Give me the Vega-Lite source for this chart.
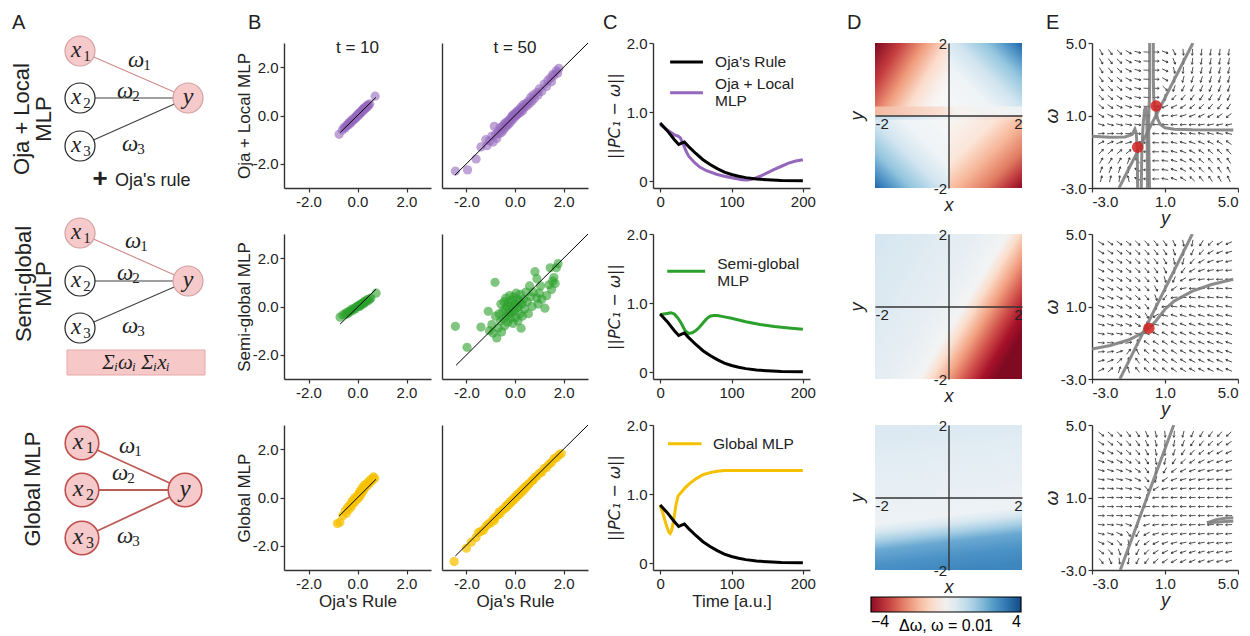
{
"$schema":"https://vega.github.io/schema/vega-lite/v6.json",
"padding":{"left":0,"top":12,"right":0,"bottom":0},
"config":{
 "view":{"stroke":null},
 "font":"Liberation Sans",
 "axis":{"labelFont":"Liberation Sans","titleFont":"Liberation Sans","labelFontSize":15,"titleFontSize":17,"titleFontWeight":"normal","labelColor":"#222","titleColor":"#222","domainColor":"#333","tickColor":"#333","domainWidth":1.4,"tickWidth":1.2,"tickSize":4,"grid":false,"labelPadding":2},
 "text":{"font":"Liberation Sans","color":"#222"},
 "legend":{"labelFont":"Liberation Sans","titleFont":"Liberation Sans"}
},
"columns":9,
"spacing":{"row":46,"column":11},
"bounds":"flush",
"datasets":{
"sc":[
{"g":"1a","x":-0.75,"y":-0.78},{"g":"1a","x":-0.62,"y":-0.6},{"g":"1a","x":-0.55,"y":-0.5},{"g":"1a","x":-0.5,"y":-0.52},{"g":"1a","x":-0.45,"y":-0.42},{"g":"1a","x":-0.42,"y":-0.38},{"g":"1a","x":-0.38,"y":-0.4},{"g":"1a","x":-0.35,"y":-0.3},{"g":"1a","x":-0.3,"y":-0.28},{"g":"1a","x":-0.28,"y":-0.32},{"g":"1a","x":-0.25,"y":-0.2},{"g":"1a","x":-0.2,"y":-0.22},{"g":"1a","x":-0.18,"y":-0.15},{"g":"1a","x":-0.15,"y":-0.18},{"g":"1a","x":-0.1,"y":-0.08},{"g":"1a","x":-0.08,"y":-0.12},{"g":"1a","x":-0.05,"y":-0.02},{"g":"1a","x":0,"y":0.02},{"g":"1a","x":0.02,"y":-0.03},{"g":"1a","x":0.05,"y":0.08},{"g":"1a","x":0.08,"y":0.05},{"g":"1a","x":0.1,"y":0.12},{"g":"1a","x":0.12,"y":0.1},{"g":"1a","x":0.15,"y":0.18},{"g":"1a","x":0.18,"y":0.15},{"g":"1a","x":0.2,"y":0.24},{"g":"1a","x":0.22,"y":0.2},{"g":"1a","x":0.25,"y":0.28},{"g":"1a","x":0.28,"y":0.25},{"g":"1a","x":0.3,"y":0.33},{"g":"1a","x":0.33,"y":0.3},{"g":"1a","x":0.36,"y":0.38},{"g":"1a","x":0.4,"y":0.35},{"g":"1a","x":0.42,"y":0.44},{"g":"1a","x":0.45,"y":0.42},{"g":"1a","x":0.5,"y":0.48},{"g":"1a","x":0.72,"y":0.8},
{"g":"1b","x":-2.45,"y":-2.3},{"g":"1b","x":-1.95,"y":-2.25},{"g":"1b","x":-1.6,"y":-1.8},{"g":"1b","x":-1.4,"y":-1.3},{"g":"1b","x":-1.2,"y":-1.0},{"g":"1b","x":-1.15,"y":-1.25},{"g":"1b","x":-1.05,"y":-1.05},{"g":"1b","x":-0.95,"y":-0.85},{"g":"1b","x":-0.9,"y":-1.1},{"g":"1b","x":-0.85,"y":-0.45},{"g":"1b","x":-0.8,"y":-0.8},{"g":"1b","x":-0.75,"y":-0.95},{"g":"1b","x":-0.7,"y":-0.65},{"g":"1b","x":-0.65,"y":-0.75},{"g":"1b","x":-0.6,"y":-0.5},{"g":"1b","x":-0.55,"y":-0.7},{"g":"1b","x":-0.5,"y":-0.45},{"g":"1b","x":-0.48,"y":-0.6},{"g":"1b","x":-0.45,"y":-0.35},{"g":"1b","x":-0.4,"y":-0.5},{"g":"1b","x":-0.38,"y":-0.3},{"g":"1b","x":-0.35,"y":-0.42},{"g":"1b","x":-0.3,"y":-0.25},{"g":"1b","x":-0.28,"y":-0.38},{"g":"1b","x":-0.25,"y":-0.2},{"g":"1b","x":-0.2,"y":-0.3},{"g":"1b","x":-0.18,"y":-0.1},{"g":"1b","x":-0.15,"y":-0.2},{"g":"1b","x":-0.12,"y":-0.05},{"g":"1b","x":-0.1,"y":0.0},{"g":"1b","x":-0.08,"y":-0.15},{"g":"1b","x":-0.05,"y":0.05},{"g":"1b","x":0.0,"y":-0.05},{"g":"1b","x":0.02,"y":0.1},{"g":"1b","x":0.05,"y":0.0},{"g":"1b","x":0.08,"y":0.15},{"g":"1b","x":0.1,"y":0.05},{"g":"1b","x":0.12,"y":0.2},{"g":"1b","x":0.15,"y":0.1},{"g":"1b","x":0.2,"y":0.25},{"g":"1b","x":0.22,"y":0.12},{"g":"1b","x":0.25,"y":0.35},{"g":"1b","x":0.3,"y":0.3},{"g":"1b","x":0.32,"y":0.2},{"g":"1b","x":0.35,"y":0.45},{"g":"1b","x":0.4,"y":0.35},{"g":"1b","x":0.45,"y":0.5},{"g":"1b","x":0.5,"y":0.4},{"g":"1b","x":0.55,"y":0.6},{"g":"1b","x":0.6,"y":0.5},{"g":"1b","x":0.65,"y":0.75},{"g":"1b","x":0.7,"y":0.6},{"g":"1b","x":0.75,"y":0.85},{"g":"1b","x":0.8,"y":0.7},{"g":"1b","x":0.9,"y":0.95},{"g":"1b","x":0.95,"y":0.85},{"g":"1b","x":1.0,"y":1.1},{"g":"1b","x":1.1,"y":1.0},{"g":"1b","x":1.2,"y":1.3},{"g":"1b","x":1.3,"y":1.2},{"g":"1b","x":1.35,"y":1.45},{"g":"1b","x":1.45,"y":1.55},{"g":"1b","x":1.5,"y":1.4},{"g":"1b","x":1.55,"y":1.7},{"g":"1b","x":1.6,"y":1.65},{"g":"1b","x":1.7,"y":1.85},{"g":"1b","x":1.75,"y":1.75},{"g":"1b","x":1.8,"y":1.95},
{"g":"2a","x":-0.71,"y":-0.44},{"g":"2a","x":-0.6,"y":-0.35},{"g":"2a","x":-0.5,"y":-0.33},{"g":"2a","x":-0.45,"y":-0.25},{"g":"2a","x":-0.4,"y":-0.3},{"g":"2a","x":-0.35,"y":-0.2},{"g":"2a","x":-0.3,"y":-0.22},{"g":"2a","x":-0.25,"y":-0.12},{"g":"2a","x":-0.2,"y":-0.16},{"g":"2a","x":-0.15,"y":-0.08},{"g":"2a","x":-0.1,"y":-0.1},{"g":"2a","x":-0.05,"y":-0.02},{"g":"2a","x":0,"y":0.0},{"g":"2a","x":0.05,"y":0.04},{"g":"2a","x":0.08,"y":-0.01},{"g":"2a","x":0.1,"y":0.08},{"g":"2a","x":0.15,"y":0.06},{"g":"2a","x":0.18,"y":0.13},{"g":"2a","x":0.2,"y":0.1},{"g":"2a","x":0.25,"y":0.18},{"g":"2a","x":0.28,"y":0.14},{"g":"2a","x":0.3,"y":0.22},{"g":"2a","x":0.35,"y":0.2},{"g":"2a","x":0.4,"y":0.28},{"g":"2a","x":0.45,"y":0.25},{"g":"2a","x":0.5,"y":0.32},{"g":"2a","x":0.55,"y":0.35},{"g":"2a","x":0.76,"y":0.55},
{"g":"2b","x":-2.45,"y":-0.82},{"g":"2b","x":-1.97,"y":-1.69},{"g":"2b","x":-1.4,"y":-0.85},{"g":"2b","x":-1.1,"y":-0.2},{"g":"2b","x":-1.05,"y":-1.0},{"g":"2b","x":-0.95,"y":-0.75},{"g":"2b","x":-0.9,"y":-1.1},{"g":"2b","x":-0.82,"y":1.0},{"g":"2b","x":-0.8,"y":-0.4},{"g":"2b","x":-0.75,"y":-1.3},{"g":"2b","x":-0.7,"y":-0.9},{"g":"2b","x":-0.65,"y":-0.3},{"g":"2b","x":-0.6,"y":-0.6},{"g":"2b","x":-0.58,"y":0.1},{"g":"2b","x":-0.55,"y":-1.05},{"g":"2b","x":-0.5,"y":-0.2},{"g":"2b","x":-0.48,"y":-0.5},{"g":"2b","x":-0.45,"y":0.2},{"g":"2b","x":-0.42,"y":-0.8},{"g":"2b","x":-0.4,"y":-0.1},{"g":"2b","x":-0.38,"y":0.35},{"g":"2b","x":-0.35,"y":-0.4},{"g":"2b","x":-0.32,"y":0.0},{"g":"2b","x":-0.3,"y":-0.65},{"g":"2b","x":-0.28,"y":0.15},{"g":"2b","x":-0.25,"y":-0.25},{"g":"2b","x":-0.22,"y":0.45},{"g":"2b","x":-0.2,"y":-0.5},{"g":"2b","x":-0.18,"y":0.05},{"g":"2b","x":-0.15,"y":-0.3},{"g":"2b","x":-0.12,"y":0.25},{"g":"2b","x":-0.1,"y":-0.1},{"g":"2b","x":-0.08,"y":-0.7},{"g":"2b","x":-0.05,"y":0.4},{"g":"2b","x":-0.03,"y":-0.2},{"g":"2b","x":0.0,"y":0.1},{"g":"2b","x":0.02,"y":-0.45},{"g":"2b","x":0.05,"y":0.55},{"g":"2b","x":0.08,"y":-0.05},{"g":"2b","x":0.1,"y":0.3},{"g":"2b","x":0.12,"y":-0.6},{"g":"2b","x":0.15,"y":0.0},{"g":"2b","x":0.18,"y":0.2},{"g":"2b","x":0.2,"y":-0.3},{"g":"2b","x":0.22,"y":0.5},{"g":"2b","x":0.25,"y":-0.9},{"g":"2b","x":0.28,"y":0.1},{"g":"2b","x":0.3,"y":-0.4},{"g":"2b","x":0.35,"y":0.3},{"g":"2b","x":0.4,"y":-0.1},{"g":"2b","x":0.45,"y":0.6},{"g":"2b","x":0.5,"y":0.2},{"g":"2b","x":0.55,"y":-0.3},{"g":"2b","x":0.6,"y":0.85},{"g":"2b","x":0.65,"y":0.4},{"g":"2b","x":0.7,"y":0.0},{"g":"2b","x":0.75,"y":0.6},{"g":"2b","x":0.82,"y":1.44},{"g":"2b","x":0.9,"y":0.35},{"g":"2b","x":0.95,"y":0.1},{"g":"2b","x":1.0,"y":0.55},{"g":"2b","x":1.05,"y":0.85},{"g":"2b","x":1.1,"y":0.3},{"g":"2b","x":1.23,"y":-0.07},{"g":"2b","x":1.3,"y":0.45},{"g":"2b","x":1.4,"y":0.9},{"g":"2b","x":1.45,"y":1.6},{"g":"2b","x":1.5,"y":0.7},{"g":"2b","x":1.55,"y":1.05},{"g":"2b","x":1.6,"y":1.2},{"g":"2b","x":1.65,"y":0.95},{"g":"2b","x":1.7,"y":1.6},{"g":"2b","x":1.77,"y":1.77},{"g":"2b","x":0.9,"y":1.15},
{"g":"3a","x":-0.82,"y":-1.08},{"g":"3a","x":-0.72,"y":-1.02},{"g":"3a","x":-0.6,"y":-0.75},{"g":"3a","x":-0.5,"y":-0.55},{"g":"3a","x":-0.45,"y":-0.65},{"g":"3a","x":-0.4,"y":-0.4},{"g":"3a","x":-0.35,"y":-0.5},{"g":"3a","x":-0.3,"y":-0.3},{"g":"3a","x":-0.25,"y":-0.38},{"g":"3a","x":-0.22,"y":-0.15},{"g":"3a","x":-0.2,"y":-0.25},{"g":"3a","x":-0.15,"y":-0.1},{"g":"3a","x":-0.12,"y":-0.2},{"g":"3a","x":-0.1,"y":0.0},{"g":"3a","x":-0.05,"y":-0.08},{"g":"3a","x":0,"y":0.05},{"g":"3a","x":0.02,"y":-0.05},{"g":"3a","x":0.05,"y":0.15},{"g":"3a","x":0.08,"y":0.05},{"g":"3a","x":0.1,"y":0.25},{"g":"3a","x":0.12,"y":0.1},{"g":"3a","x":0.15,"y":0.3},{"g":"3a","x":0.18,"y":0.2},{"g":"3a","x":0.2,"y":0.4},{"g":"3a","x":0.25,"y":0.3},{"g":"3a","x":0.28,"y":0.5},{"g":"3a","x":0.3,"y":0.4},{"g":"3a","x":0.35,"y":0.55},{"g":"3a","x":0.4,"y":0.5},{"g":"3a","x":0.45,"y":0.65},{"g":"3a","x":0.5,"y":0.6},{"g":"3a","x":0.55,"y":0.75},{"g":"3a","x":0.6,"y":0.7},{"g":"3a","x":0.65,"y":0.85},{"g":"3a","x":0.7,"y":0.8},
{"g":"3b","x":-2.5,"y":-2.65},{"g":"3b","x":-2.0,"y":-2.1},{"g":"3b","x":-1.8,"y":-1.85},{"g":"3b","x":-1.6,"y":-1.65},{"g":"3b","x":-1.5,"y":-1.45},{"g":"3b","x":-1.4,"y":-1.4},{"g":"3b","x":-1.3,"y":-1.35},{"g":"3b","x":-1.2,"y":-1.2},{"g":"3b","x":-1.1,"y":-1.1},{"g":"3b","x":-1.0,"y":-1.05},{"g":"3b","x":-0.9,"y":-0.9},{"g":"3b","x":-0.85,"y":-0.95},{"g":"3b","x":-0.8,"y":-0.8},{"g":"3b","x":-0.7,"y":-0.72},{"g":"3b","x":-0.65,"y":-0.6},{"g":"3b","x":-0.6,"y":-0.65},{"g":"3b","x":-0.5,"y":-0.5},{"g":"3b","x":-0.45,"y":-0.48},{"g":"3b","x":-0.4,"y":-0.38},{"g":"3b","x":-0.35,"y":-0.4},{"g":"3b","x":-0.3,"y":-0.28},{"g":"3b","x":-0.25,"y":-0.3},{"g":"3b","x":-0.2,"y":-0.18},{"g":"3b","x":-0.15,"y":-0.2},{"g":"3b","x":-0.1,"y":-0.08},{"g":"3b","x":-0.05,"y":-0.1},{"g":"3b","x":0,"y":0.02},{"g":"3b","x":0.05,"y":0.0},{"g":"3b","x":0.1,"y":0.12},{"g":"3b","x":0.15,"y":0.1},{"g":"3b","x":0.2,"y":0.22},{"g":"3b","x":0.25,"y":0.2},{"g":"3b","x":0.3,"y":0.32},{"g":"3b","x":0.35,"y":0.3},{"g":"3b","x":0.4,"y":0.42},{"g":"3b","x":0.45,"y":0.4},{"g":"3b","x":0.5,"y":0.5},{"g":"3b","x":0.55,"y":0.55},{"g":"3b","x":0.6,"y":0.58},{"g":"3b","x":0.7,"y":0.7},{"g":"3b","x":0.75,"y":0.72},{"g":"3b","x":0.8,"y":0.82},{"g":"3b","x":0.9,"y":0.88},{"g":"3b","x":1.0,"y":1.0},{"g":"3b","x":1.1,"y":1.05},{"g":"3b","x":1.2,"y":1.2},{"g":"3b","x":1.3,"y":1.25},{"g":"3b","x":1.4,"y":1.38},{"g":"3b","x":1.5,"y":1.45},{"g":"3b","x":1.6,"y":1.6},{"g":"3b","x":1.7,"y":1.65},{"g":"3b","x":1.8,"y":1.75},{"g":"3b","x":1.9,"y":1.82}
],
"dl":[{"g":"1a","x":-0.7,"y":-0.7},{"g":"1a","x":0.75,"y":0.75},{"g":"1b","x":-2.47,"y":-2.47},{"g":"1b","x":3,"y":3},{"g":"2a","x":-0.71,"y":-0.73},{"g":"2a","x":0.76,"y":0.72},{"g":"2b","x":-2.42,"y":-2.43},{"g":"2b","x":3,"y":3},{"g":"3a","x":-0.75,"y":-0.77},{"g":"3a","x":0.75,"y":0.75},{"g":"3b","x":-2.45,"y":-2.42},{"g":"3b","x":3,"y":3}],
"cv":[
{"s":"oja","t":0,"v":0.84},{"s":"oja","t":10,"v":0.73},{"s":"oja","t":20,"v":0.6},{"s":"oja","t":26,"v":0.53},{"s":"oja","t":30,"v":0.55},{"s":"oja","t":34,"v":0.565},{"s":"oja","t":40,"v":0.5},{"s":"oja","t":50,"v":0.4},{"s":"oja","t":60,"v":0.31},{"s":"oja","t":70,"v":0.24},{"s":"oja","t":80,"v":0.18},{"s":"oja","t":90,"v":0.13},{"s":"oja","t":100,"v":0.095},{"s":"oja","t":110,"v":0.07},{"s":"oja","t":120,"v":0.05},{"s":"oja","t":135,"v":0.03},{"s":"oja","t":150,"v":0.02},{"s":"oja","t":170,"v":0.01},{"s":"oja","t":200,"v":0.005},
{"s":"loc","t":0,"v":0.82},{"s":"loc","t":10,"v":0.74},{"s":"loc","t":20,"v":0.67},{"s":"loc","t":25,"v":0.65},{"s":"loc","t":28,"v":0.63},{"s":"loc","t":32,"v":0.55},{"s":"loc","t":36,"v":0.44},{"s":"loc","t":40,"v":0.36},{"s":"loc","t":48,"v":0.27},{"s":"loc","t":56,"v":0.2},{"s":"loc","t":65,"v":0.15},{"s":"loc","t":79,"v":0.1},{"s":"loc","t":90,"v":0.07},{"s":"loc","t":102,"v":0.045},{"s":"loc","t":115,"v":0.02},{"s":"loc","t":122,"v":0.015},{"s":"loc","t":130,"v":0.03},{"s":"loc","t":140,"v":0.07},{"s":"loc","t":150,"v":0.12},{"s":"loc","t":160,"v":0.17},{"s":"loc","t":170,"v":0.215},{"s":"loc","t":180,"v":0.26},{"s":"loc","t":190,"v":0.29},{"s":"loc","t":200,"v":0.31},
{"s":"semi","t":0,"v":0.83},{"s":"semi","t":5,"v":0.84},{"s":"semi","t":10,"v":0.85},{"s":"semi","t":15,"v":0.86},{"s":"semi","t":20,"v":0.84},{"s":"semi","t":25,"v":0.78},{"s":"semi","t":30,"v":0.7},{"s":"semi","t":35,"v":0.6},{"s":"semi","t":40,"v":0.56},{"s":"semi","t":45,"v":0.57},{"s":"semi","t":50,"v":0.6},{"s":"semi","t":55,"v":0.65},{"s":"semi","t":60,"v":0.71},{"s":"semi","t":65,"v":0.77},{"s":"semi","t":70,"v":0.81},{"s":"semi","t":75,"v":0.82},{"s":"semi","t":80,"v":0.82},{"s":"semi","t":90,"v":0.8},{"s":"semi","t":100,"v":0.78},{"s":"semi","t":120,"v":0.73},{"s":"semi","t":140,"v":0.69},{"s":"semi","t":160,"v":0.66},{"s":"semi","t":180,"v":0.64},{"s":"semi","t":200,"v":0.62},
{"s":"glob","t":0,"v":0.84},{"s":"glob","t":4,"v":0.72},{"s":"glob","t":8,"v":0.57},{"s":"glob","t":12,"v":0.45},{"s":"glob","t":14,"v":0.43},{"s":"glob","t":16,"v":0.47},{"s":"glob","t":19,"v":0.62},{"s":"glob","t":22,"v":0.83},{"s":"glob","t":25,"v":0.97},{"s":"glob","t":30,"v":1.03},{"s":"glob","t":35,"v":1.09},{"s":"glob","t":40,"v":1.14},{"s":"glob","t":50,"v":1.22},{"s":"glob","t":60,"v":1.28},{"s":"glob","t":70,"v":1.31},{"s":"glob","t":80,"v":1.33},{"s":"glob","t":90,"v":1.34},{"s":"glob","t":100,"v":1.34},{"s":"glob","t":150,"v":1.34},{"s":"glob","t":200,"v":1.34}
],
"ae":[
{"r":1,"e":"1","k":"act","x":8.0,"y":13.7},{"r":1,"e":"1","k":"act","x":18.8,"y":9.0},{"r":1,"e":"2","k":"in","x":8.0,"y":9.0},{"r":1,"e":"2","k":"in","x":18.8,"y":9.0},{"r":1,"e":"3","k":"in","x":8.0,"y":4.2},{"r":1,"e":"3","k":"in","x":18.8,"y":9.0},
{"r":2,"e":"1","k":"act","x":8.0,"y":14.6},{"r":2,"e":"1","k":"act","x":18.8,"y":9.8},{"r":2,"e":"2","k":"in","x":8.0,"y":9.8},{"r":2,"e":"2","k":"in","x":18.8,"y":9.8},{"r":2,"e":"3","k":"in","x":8.0,"y":5.1},{"r":2,"e":"3","k":"in","x":18.8,"y":9.8},
{"r":3,"e":"1","k":"act","x":8.2,"y":12.7},{"r":3,"e":"1","k":"act","x":18.5,"y":8.0},{"r":3,"e":"2","k":"act","x":8.2,"y":8.0},{"r":3,"e":"2","k":"act","x":18.5,"y":8.0},{"r":3,"e":"3","k":"act","x":8.2,"y":3.2},{"r":3,"e":"3","k":"act","x":18.5,"y":8.0}
],
"an":[
{"r":1,"n":"x","i":"1","k":"act","x":8.0,"y":13.7},{"r":1,"n":"x","i":"2","k":"in","x":8.0,"y":9.0},{"r":1,"n":"x","i":"3","k":"in","x":8.0,"y":4.2},{"r":1,"n":"y","i":"","k":"act","x":18.8,"y":9.0},
{"r":2,"n":"x","i":"1","k":"act","x":8.0,"y":14.6},{"r":2,"n":"x","i":"2","k":"in","x":8.0,"y":9.8},{"r":2,"n":"x","i":"3","k":"in","x":8.0,"y":5.1},{"r":2,"n":"y","i":"","k":"act","x":18.8,"y":9.8},
{"r":3,"n":"x","i":"1","k":"act","x":8.2,"y":12.7},{"r":3,"n":"x","i":"2","k":"act","x":8.2,"y":8.0},{"r":3,"n":"x","i":"3","k":"act","x":8.2,"y":3.2},{"r":3,"n":"y","i":"","k":"act","x":18.5,"y":8.0}
],
"aw":[
{"r":1,"i":"1","x":13.6,"y":12.8},{"r":1,"i":"2","x":12.5,"y":9.7},{"r":1,"i":"3","x":13.0,"y":4.4},
{"r":2,"i":"1","x":13.3,"y":13.8},{"r":2,"i":"2","x":12.5,"y":10.6},{"r":2,"i":"3","x":13.0,"y":5.3},
{"r":3,"i":"1","x":12.7,"y":12.4},{"r":3,"i":"2","x":12.0,"y":9.7},{"r":3,"i":"3","x":12.5,"y":3.4}
],
"hm":[{"id":"1tl","x":-2,"x2":0,"y":0,"y2":2},{"id":"1tr","x":0,"x2":2,"y":0,"y2":2},{"id":"1bl","x":-2,"x2":0,"y":-2,"y2":0},{"id":"1br","x":0,"x2":2,"y":-2,"y2":0},{"id":"1s1","x":-2,"x2":2,"y":0,"y2":0.25},{"id":"1s2","x":-2,"x2":2,"y":-0.12,"y2":0},{"id":"2","x":-2,"x2":2,"y":-2,"y2":2},{"id":"3","x":-2,"x2":2,"y":-2,"y2":2}],
"nc":[
{"p":"e1","s":"a","i":0,"x":-1.52,"y":-3},{"p":"e1","s":"a","i":1,"x":2.53,"y":5},
{"p":"e1","s":"b","i":0,"x":0.36,"y":5},{"p":"e1","s":"b","i":1,"x":0.36,"y":3},{"p":"e1","s":"b","i":2,"x":0.38,"y":2},{"p":"e1","s":"b","i":3,"x":0.42,"y":1.6},{"p":"e1","s":"b","i":4,"x":0.5,"y":1.25},{"p":"e1","s":"b","i":5,"x":0.6,"y":0.8},{"p":"e1","s":"b","i":6,"x":0.75,"y":0.5},{"p":"e1","s":"b","i":7,"x":1.0,"y":0.32},{"p":"e1","s":"b","i":8,"x":1.5,"y":0.24},{"p":"e1","s":"b","i":9,"x":2.5,"y":0.21},{"p":"e1","s":"b","i":10,"x":4.74,"y":0.2},
{"p":"e1","s":"c","i":0,"x":0.16,"y":5},{"p":"e1","s":"c","i":1,"x":0.16,"y":3},{"p":"e1","s":"c","i":2,"x":0.15,"y":2},{"p":"e1","s":"c","i":3,"x":0.12,"y":1.3},{"p":"e1","s":"c","i":4,"x":0.1,"y":0.5},{"p":"e1","s":"c","i":5,"x":0.12,"y":-1},{"p":"e1","s":"c","i":6,"x":0.15,"y":-3},
{"p":"e1","s":"d","i":0,"x":-3,"y":-0.15},{"p":"e1","s":"d","i":1,"x":-2,"y":-0.2},{"p":"e1","s":"d","i":2,"x":-1.2,"y":-0.18},{"p":"e1","s":"d","i":3,"x":-0.8,"y":-0.05},{"p":"e1","s":"d","i":4,"x":-0.65,"y":0.25},{"p":"e1","s":"d","i":5,"x":-0.58,"y":0.05},{"p":"e1","s":"d","i":6,"x":-0.52,"y":-0.8},{"p":"e1","s":"d","i":7,"x":-0.5,"y":-3},
{"p":"e1","s":"e","i":0,"x":-0.3,"y":-3},{"p":"e1","s":"e","i":1,"x":-0.27,"y":-1},{"p":"e1","s":"e","i":2,"x":-0.2,"y":0.5},{"p":"e1","s":"e","i":3,"x":-0.12,"y":1.3},{"p":"e1","s":"e","i":4,"x":-0.05,"y":1.5},{"p":"e1","s":"e","i":5,"x":0.0,"y":1.0},{"p":"e1","s":"e","i":6,"x":0.03,"y":-1},{"p":"e1","s":"e","i":7,"x":0.04,"y":-3},
{"p":"e2","s":"a","i":0,"x":-1.47,"y":-3},{"p":"e2","s":"a","i":1,"x":2.5,"y":5},
{"p":"e2","s":"b","i":0,"x":-3,"y":-1.35},{"p":"e2","s":"b","i":1,"x":-2,"y":-1.15},{"p":"e2","s":"b","i":2,"x":-1,"y":-0.85},{"p":"e2","s":"b","i":3,"x":-0.3,"y":-0.5},{"p":"e2","s":"b","i":4,"x":0.12,"y":-0.2},{"p":"e2","s":"b","i":5,"x":0.5,"y":0.2},{"p":"e2","s":"b","i":6,"x":1.0,"y":0.85},{"p":"e2","s":"b","i":7,"x":1.5,"y":1.3},{"p":"e2","s":"b","i":8,"x":2.5,"y":1.85},{"p":"e2","s":"b","i":9,"x":3.5,"y":2.2},{"p":"e2","s":"b","i":10,"x":4.74,"y":2.5},
{"p":"e3","s":"a","i":0,"x":-1.45,"y":-3},{"p":"e3","s":"a","i":1,"x":1.48,"y":5},
{"p":"e3","s":"b","i":0,"x":3.3,"y":-0.4},{"p":"e3","s":"b","i":1,"x":3.8,"y":-0.22},{"p":"e3","s":"b","i":2,"x":4.3,"y":-0.15},{"p":"e3","s":"b","i":3,"x":4.74,"y":-0.12},
{"p":"e3","s":"c","i":0,"x":3.3,"y":-0.4},{"p":"e3","s":"c","i":1,"x":3.8,"y":-0.36},{"p":"e3","s":"c","i":2,"x":4.3,"y":-0.33},{"p":"e3","s":"c","i":3,"x":4.74,"y":-0.31}
],
"fp":[{"p":"e1","x":0.51,"y":1.52},{"p":"e1","x":-0.5,"y":-0.75},{"p":"e2","x":0.12,"y":-0.2}],
"q1":[
{"x":-2.5,"y":4.5,"a":-61},{"x":-2,"y":4.5,"a":-54},{"x":-1.5,"y":4.5,"a":-44},{"x":-1,"y":4.5,"a":-31},{"x":-0.5,"y":4.5,"a":-15},{"x":0,"y":4.5,"a":-3},{"x":0.5,"y":4.5,"a":-1},{"x":1,"y":4.5,"a":-21},{"x":1.5,"y":4.5,"a":-63},{"x":2,"y":4.5,"a":-85},{"x":2.5,"y":4.5,"a":-93},{"x":3,"y":4.5,"a":-96},{"x":3.5,"y":4.5,"a":-97},{"x":4,"y":4.5,"a":-97},{"x":4.5,"y":4.5,"a":-97},
{"x":-2.5,"y":4,"a":-60},{"x":-2,"y":4,"a":-52},{"x":-1.5,"y":4,"a":-43},{"x":-1,"y":4,"a":-30},{"x":-0.5,"y":4,"a":-15},{"x":0,"y":4,"a":-3},{"x":0.5,"y":4,"a":-1},{"x":1,"y":4,"a":-23},{"x":1.5,"y":4,"a":-69},{"x":2,"y":4,"a":-90},{"x":2.5,"y":4,"a":-96},{"x":3,"y":4,"a":-99},{"x":3.5,"y":4,"a":-99},{"x":4,"y":4,"a":-99},{"x":4.5,"y":4,"a":-99},
{"x":-2.5,"y":3.5,"a":-58},{"x":-2,"y":3.5,"a":-50},{"x":-1.5,"y":3.5,"a":-41},{"x":-1,"y":3.5,"a":-29},{"x":-0.5,"y":3.5,"a":-15},{"x":0,"y":3.5,"a":-3},{"x":0.5,"y":3.5,"a":-1},{"x":1,"y":3.5,"a":-25},{"x":1.5,"y":3.5,"a":-77},{"x":2,"y":3.5,"a":-96},{"x":2.5,"y":3.5,"a":-101},{"x":3,"y":3.5,"a":-102},{"x":3.5,"y":3.5,"a":-102},{"x":4,"y":3.5,"a":-102},{"x":4.5,"y":3.5,"a":-101},
{"x":-2.5,"y":3,"a":-55},{"x":-2,"y":3,"a":-48},{"x":-1.5,"y":3,"a":-39},{"x":-1,"y":3,"a":-27},{"x":-0.5,"y":3,"a":-14},{"x":0,"y":3,"a":-3},{"x":0.5,"y":3,"a":-1},{"x":1,"y":3,"a":-30},{"x":1.5,"y":3,"a":-90},{"x":2,"y":3,"a":-105},{"x":2.5,"y":3,"a":-107},{"x":3,"y":3,"a":-107},{"x":3.5,"y":3,"a":-106},{"x":4,"y":3,"a":-105},{"x":4.5,"y":3,"a":-104},
{"x":-2.5,"y":2.5,"a":-52},{"x":-2,"y":2.5,"a":-45},{"x":-1.5,"y":2.5,"a":-36},{"x":-1,"y":2.5,"a":-25},{"x":-0.5,"y":2.5,"a":-14},{"x":0,"y":2.5,"a":-3},{"x":0.5,"y":2.5,"a":-1},{"x":1,"y":2.5,"a":-43},{"x":1.5,"y":2.5,"a":-109},{"x":2,"y":2.5,"a":-116},{"x":2.5,"y":2.5,"a":-116},{"x":3,"y":2.5,"a":-114},{"x":3.5,"y":2.5,"a":-112},{"x":4,"y":2.5,"a":-110},{"x":4.5,"y":2.5,"a":-108},
{"x":-2.5,"y":2,"a":-47},{"x":-2,"y":2,"a":-40},{"x":-1.5,"y":2,"a":-33},{"x":-1,"y":2,"a":-23},{"x":-0.5,"y":2,"a":-13},{"x":0,"y":2,"a":-4},{"x":0.5,"y":2,"a":0},{"x":1,"y":2,"a":-90},{"x":1.5,"y":2,"a":-132},{"x":2,"y":2,"a":-130},{"x":2.5,"y":2,"a":-127},{"x":3,"y":2,"a":-123},{"x":3.5,"y":2,"a":-120},{"x":4,"y":2,"a":-117},{"x":4.5,"y":2,"a":-115},
{"x":-2.5,"y":1.5,"a":-40},{"x":-2,"y":1.5,"a":-35},{"x":-1.5,"y":1.5,"a":-28},{"x":-1,"y":1.5,"a":-20},{"x":-0.5,"y":1.5,"a":-12},{"x":0,"y":1.5,"a":-4},{"x":0.5,"y":1.5,"a":1},{"x":1,"y":1.5,"a":-157},{"x":1.5,"y":1.5,"a":-153},{"x":2,"y":1.5,"a":-147},{"x":2.5,"y":1.5,"a":-141},{"x":3,"y":1.5,"a":-136},{"x":3.5,"y":1.5,"a":-132},{"x":4,"y":1.5,"a":-128},{"x":4.5,"y":1.5,"a":-125},
{"x":-2.5,"y":1,"a":-31},{"x":-2,"y":1,"a":-26},{"x":-1.5,"y":1,"a":-21},{"x":-1,"y":1,"a":-16},{"x":-0.5,"y":1,"a":-11},{"x":0,"y":1,"a":-5},{"x":0.5,"y":1,"a":90},{"x":1,"y":1,"a":-175},{"x":1.5,"y":1,"a":-169},{"x":2,"y":1,"a":-163},{"x":2.5,"y":1,"a":-158},{"x":3,"y":1,"a":-153},{"x":3.5,"y":1,"a":-149},{"x":4,"y":1,"a":-145},{"x":4.5,"y":1,"a":-141},
{"x":-2.5,"y":0.5,"a":-16},{"x":-2,"y":0.5,"a":-14},{"x":-1.5,"y":0.5,"a":-12},{"x":-1,"y":0.5,"a":-10},{"x":-0.5,"y":0.5,"a":-8},{"x":0,"y":0.5,"a":-7},{"x":0.5,"y":0.5,"a":177},{"x":1,"y":0.5,"a":179},{"x":1.5,"y":0.5,"a":-179},{"x":2,"y":0.5,"a":-177},{"x":2.5,"y":0.5,"a":-175},{"x":3,"y":0.5,"a":-173},{"x":3.5,"y":0.5,"a":-171},{"x":4,"y":0.5,"a":-169},{"x":4.5,"y":0.5,"a":-167},
{"x":-2.5,"y":0,"a":4},{"x":-2,"y":0,"a":3},{"x":-1.5,"y":0,"a":1},{"x":-1,"y":0,"a":-1},{"x":-0.5,"y":0,"a":-3},{"x":0,"y":0,"a":-90},{"x":0.5,"y":0,"a":178},{"x":1,"y":0,"a":176},{"x":1.5,"y":0,"a":174},{"x":2,"y":0,"a":172},{"x":2.5,"y":0,"a":171},{"x":3,"y":0,"a":169},{"x":3.5,"y":0,"a":168},{"x":4,"y":0,"a":167},{"x":4.5,"y":0,"a":165},
{"x":-2.5,"y":-0.5,"a":27},{"x":-2,"y":-0.5,"a":23},{"x":-1.5,"y":-0.5,"a":19},{"x":-1,"y":-0.5,"a":15},{"x":-0.5,"y":-0.5,"a":11},{"x":0,"y":-0.5,"a":-179},{"x":0.5,"y":-0.5,"a":178},{"x":1,"y":-0.5,"a":174},{"x":1.5,"y":-0.5,"a":169},{"x":2,"y":-0.5,"a":164},{"x":2.5,"y":-0.5,"a":160},{"x":3,"y":-0.5,"a":156},{"x":3.5,"y":-0.5,"a":152},{"x":4,"y":-0.5,"a":148},{"x":4.5,"y":-0.5,"a":144},
{"x":-2.5,"y":-1,"a":47},{"x":-2,"y":-1,"a":43},{"x":-1.5,"y":-1,"a":40},{"x":-1,"y":-1,"a":39},{"x":-0.5,"y":-1,"a":90},{"x":0,"y":-1,"a":179},{"x":0.5,"y":-1,"a":179},{"x":1,"y":-1,"a":172},{"x":1.5,"y":-1,"a":165},{"x":2,"y":-1,"a":158},{"x":2.5,"y":-1,"a":152},{"x":3,"y":-1,"a":146},{"x":3.5,"y":-1,"a":140},{"x":4,"y":-1,"a":136},{"x":4.5,"y":-1,"a":132},
{"x":-2.5,"y":-1.5,"a":61},{"x":-2,"y":-1.5,"a":59},{"x":-1.5,"y":-1.5,"a":59},{"x":-1,"y":-1.5,"a":68},{"x":-0.5,"y":-1.5,"a":130},{"x":0,"y":-1.5,"a":179},{"x":0.5,"y":-1.5,"a":179},{"x":1,"y":-1.5,"a":172},{"x":1.5,"y":-1.5,"a":163},{"x":2,"y":-1.5,"a":154},{"x":2.5,"y":-1.5,"a":146},{"x":3,"y":-1.5,"a":139},{"x":3.5,"y":-1.5,"a":133},{"x":4,"y":-1.5,"a":128},{"x":4.5,"y":-1.5,"a":124},
{"x":-2.5,"y":-2,"a":70},{"x":-2,"y":-2,"a":70},{"x":-1.5,"y":-2,"a":73},{"x":-1,"y":-2,"a":90},{"x":-0.5,"y":-2,"a":150},{"x":0,"y":-2,"a":179},{"x":0.5,"y":-2,"a":179},{"x":1,"y":-2,"a":171},{"x":1.5,"y":-2,"a":161},{"x":2,"y":-2,"a":150},{"x":2.5,"y":-2,"a":141},{"x":3,"y":-2,"a":134},{"x":3.5,"y":-2,"a":128},{"x":4,"y":-2,"a":123},{"x":4.5,"y":-2,"a":119},
{"x":-2.5,"y":-2.5,"a":76},{"x":-2,"y":-2.5,"a":78},{"x":-1.5,"y":-2.5,"a":83},{"x":-1,"y":-2.5,"a":104},{"x":-0.5,"y":-2.5,"a":154},{"x":0,"y":-2.5,"a":178},{"x":0.5,"y":-2.5,"a":179},{"x":1,"y":-2.5,"a":170},{"x":1.5,"y":-2.5,"a":159},{"x":2,"y":-2.5,"a":147},{"x":2.5,"y":-2.5,"a":138},{"x":3,"y":-2.5,"a":130},{"x":3.5,"y":-2.5,"a":124},{"x":4,"y":-2.5,"a":119},{"x":4.5,"y":-2.5,"a":115}
],
"q2":[
{"x":-2.5,"y":4.5,"a":-31},{"x":-2,"y":4.5,"a":-34},{"x":-1.5,"y":4.5,"a":-36},{"x":-1,"y":4.5,"a":-40},{"x":-0.5,"y":4.5,"a":-43},{"x":0,"y":4.5,"a":-47},{"x":0.5,"y":4.5,"a":-51},{"x":1,"y":4.5,"a":-56},{"x":1.5,"y":4.5,"a":-65},{"x":2,"y":4.5,"a":-80},{"x":2.5,"y":4.5,"a":-101},{"x":3,"y":4.5,"a":-122},{"x":3.5,"y":4.5,"a":-137},{"x":4,"y":4.5,"a":-148},{"x":4.5,"y":4.5,"a":-156},
{"x":-2.5,"y":4,"a":-30},{"x":-2,"y":4,"a":-33},{"x":-1.5,"y":4,"a":-36},{"x":-1,"y":4,"a":-39},{"x":-0.5,"y":4,"a":-43},{"x":0,"y":4,"a":-47},{"x":0.5,"y":4,"a":-52},{"x":1,"y":4,"a":-58},{"x":1.5,"y":4,"a":-70},{"x":2,"y":4,"a":-90},{"x":2.5,"y":4,"a":-115},{"x":3,"y":4,"a":-136},{"x":3.5,"y":4,"a":-149},{"x":4,"y":4,"a":-158},{"x":4.5,"y":4,"a":-163},
{"x":-2.5,"y":3.5,"a":-29},{"x":-2,"y":3.5,"a":-32},{"x":-1.5,"y":3.5,"a":-35},{"x":-1,"y":3.5,"a":-38},{"x":-0.5,"y":3.5,"a":-43},{"x":0,"y":3.5,"a":-47},{"x":0.5,"y":3.5,"a":-53},{"x":1,"y":3.5,"a":-61},{"x":1.5,"y":3.5,"a":-77},{"x":2,"y":3.5,"a":-105},{"x":2.5,"y":3.5,"a":-132},{"x":3,"y":3.5,"a":-150},{"x":3.5,"y":3.5,"a":-160},{"x":4,"y":3.5,"a":-166},{"x":4.5,"y":3.5,"a":-169},
{"x":-2.5,"y":3,"a":-28},{"x":-2,"y":3,"a":-31},{"x":-1.5,"y":3,"a":-34},{"x":-1,"y":3,"a":-38},{"x":-0.5,"y":3,"a":-42},{"x":0,"y":3,"a":-48},{"x":0.5,"y":3,"a":-55},{"x":1,"y":3,"a":-65},{"x":1.5,"y":3,"a":-90},{"x":2,"y":3,"a":-126},{"x":2.5,"y":3,"a":-150},{"x":3,"y":3,"a":-162},{"x":3.5,"y":3,"a":-169},{"x":4,"y":3,"a":-173},{"x":4.5,"y":3,"a":-175},
{"x":-2.5,"y":2.5,"a":-27},{"x":-2,"y":2.5,"a":-29},{"x":-1.5,"y":2.5,"a":-33},{"x":-1,"y":2.5,"a":-37},{"x":-0.5,"y":2.5,"a":-42},{"x":0,"y":2.5,"a":-48},{"x":0.5,"y":2.5,"a":-57},{"x":1,"y":2.5,"a":-73},{"x":1.5,"y":2.5,"a":-113},{"x":2,"y":2.5,"a":-149},{"x":2.5,"y":2.5,"a":-165},{"x":3,"y":2.5,"a":-173},{"x":3.5,"y":2.5,"a":-176},{"x":4,"y":2.5,"a":-178},{"x":4.5,"y":2.5,"a":-180},
{"x":-2.5,"y":2,"a":-25},{"x":-2,"y":2,"a":-28},{"x":-1.5,"y":2,"a":-31},{"x":-1,"y":2,"a":-36},{"x":-0.5,"y":2,"a":-41},{"x":0,"y":2,"a":-49},{"x":0.5,"y":2,"a":-61},{"x":1,"y":2,"a":-90},{"x":1.5,"y":2,"a":-145},{"x":2,"y":2,"a":-169},{"x":2.5,"y":2,"a":-177},{"x":3,"y":2,"a":179},{"x":3.5,"y":2,"a":178},{"x":4,"y":2,"a":177},{"x":4.5,"y":2,"a":176},
{"x":-2.5,"y":1.5,"a":-23},{"x":-2,"y":1.5,"a":-26},{"x":-1.5,"y":1.5,"a":-29},{"x":-1,"y":1.5,"a":-34},{"x":-0.5,"y":1.5,"a":-40},{"x":0,"y":1.5,"a":-50},{"x":0.5,"y":1.5,"a":-69},{"x":1,"y":1.5,"a":-128},{"x":1.5,"y":1.5,"a":-172},{"x":2,"y":1.5,"a":178},{"x":2.5,"y":1.5,"a":174},{"x":3,"y":1.5,"a":173},{"x":3.5,"y":1.5,"a":173},{"x":4,"y":1.5,"a":173},{"x":4.5,"y":1.5,"a":173},
{"x":-2.5,"y":1,"a":-21},{"x":-2,"y":1,"a":-23},{"x":-1.5,"y":1,"a":-27},{"x":-1,"y":1,"a":-32},{"x":-0.5,"y":1,"a":-39},{"x":0,"y":1,"a":-52},{"x":0.5,"y":1,"a":-90},{"x":1,"y":1,"a":-172},{"x":1.5,"y":1,"a":172},{"x":2,"y":1,"a":169},{"x":2.5,"y":1,"a":168},{"x":3,"y":1,"a":168},{"x":3.5,"y":1,"a":169},{"x":4,"y":1,"a":169},{"x":4.5,"y":1,"a":170},
{"x":-2.5,"y":0.5,"a":-18},{"x":-2,"y":0.5,"a":-20},{"x":-1.5,"y":0.5,"a":-23},{"x":-1,"y":0.5,"a":-28},{"x":-0.5,"y":0.5,"a":-37},{"x":0,"y":0.5,"a":-58},{"x":0.5,"y":0.5,"a":-149},{"x":1,"y":0.5,"a":167},{"x":1.5,"y":0.5,"a":162},{"x":2,"y":0.5,"a":163},{"x":2.5,"y":0.5,"a":163},{"x":3,"y":0.5,"a":164},{"x":3.5,"y":0.5,"a":165},{"x":4,"y":0.5,"a":166},{"x":4.5,"y":0.5,"a":167},
{"x":-2.5,"y":0,"a":-14},{"x":-2,"y":0,"a":-16},{"x":-1.5,"y":0,"a":-18},{"x":-1,"y":0,"a":-23},{"x":-0.5,"y":0,"a":-32},{"x":0,"y":0,"a":-90},{"x":0.5,"y":0,"a":169},{"x":1,"y":0,"a":157},{"x":1.5,"y":0,"a":157},{"x":2,"y":0,"a":158},{"x":2.5,"y":0,"a":160},{"x":3,"y":0,"a":161},{"x":3.5,"y":0,"a":163},{"x":4,"y":0,"a":164},{"x":4.5,"y":0,"a":165},
{"x":-2.5,"y":-0.5,"a":-10},{"x":-2,"y":-0.5,"a":-11},{"x":-1.5,"y":-0.5,"a":-11},{"x":-1,"y":-0.5,"a":-13},{"x":-0.5,"y":-0.5,"a":-14},{"x":0,"y":-0.5,"a":158},{"x":0.5,"y":-0.5,"a":155},{"x":1,"y":-0.5,"a":152},{"x":1.5,"y":-0.5,"a":153},{"x":2,"y":-0.5,"a":155},{"x":2.5,"y":-0.5,"a":157},{"x":3,"y":-0.5,"a":159},{"x":3.5,"y":-0.5,"a":160},{"x":4,"y":-0.5,"a":162},{"x":4.5,"y":-0.5,"a":163},
{"x":-2.5,"y":-1,"a":-4},{"x":-2,"y":-1,"a":-3},{"x":-1.5,"y":-1,"a":0},{"x":-1,"y":-1,"a":9},{"x":-0.5,"y":-1,"a":90},{"x":0,"y":-1,"a":145},{"x":0.5,"y":-1,"a":149},{"x":1,"y":-1,"a":148},{"x":1.5,"y":-1,"a":150},{"x":2,"y":-1,"a":153},{"x":2.5,"y":-1,"a":155},{"x":3,"y":-1,"a":157},{"x":3.5,"y":-1,"a":158},{"x":4,"y":-1,"a":160},{"x":4.5,"y":-1,"a":161},
{"x":-2.5,"y":-1.5,"a":4},{"x":-2,"y":-1.5,"a":8},{"x":-1.5,"y":-1.5,"a":18},{"x":-1,"y":-1.5,"a":52},{"x":-0.5,"y":-1.5,"a":120},{"x":0,"y":-1.5,"a":141},{"x":0.5,"y":-1.5,"a":146},{"x":1,"y":-1.5,"a":146},{"x":1.5,"y":-1.5,"a":148},{"x":2,"y":-1.5,"a":151},{"x":2.5,"y":-1.5,"a":153},{"x":3,"y":-1.5,"a":155},{"x":3.5,"y":-1.5,"a":157},{"x":4,"y":-1.5,"a":158},{"x":4.5,"y":-1.5,"a":159},
{"x":-2.5,"y":-2,"a":14},{"x":-2,"y":-2,"a":23},{"x":-1.5,"y":-2,"a":45},{"x":-1,"y":-2,"a":90},{"x":-0.5,"y":-2,"a":126},{"x":0,"y":-2,"a":140},{"x":0.5,"y":-2,"a":144},{"x":1,"y":-2,"a":145},{"x":1.5,"y":-2,"a":147},{"x":2,"y":-2,"a":149},{"x":2.5,"y":-2,"a":151},{"x":3,"y":-2,"a":153},{"x":3.5,"y":-2,"a":155},{"x":4,"y":-2,"a":157},{"x":4.5,"y":-2,"a":158},
{"x":-2.5,"y":-2.5,"a":27},{"x":-2,"y":-2.5,"a":42},{"x":-1.5,"y":-2.5,"a":72},{"x":-1,"y":-2.5,"a":107},{"x":-0.5,"y":-2.5,"a":129},{"x":0,"y":-2.5,"a":139},{"x":0.5,"y":-2.5,"a":142},{"x":1,"y":-2.5,"a":143},{"x":1.5,"y":-2.5,"a":145},{"x":2,"y":-2.5,"a":148},{"x":2.5,"y":-2.5,"a":150},{"x":3,"y":-2.5,"a":152},{"x":3.5,"y":-2.5,"a":154},{"x":4,"y":-2.5,"a":155},{"x":4.5,"y":-2.5,"a":157}
],
"q3":[
{"x":-2.5,"y":4.5,"a":-38},{"x":-2,"y":4.5,"a":-42},{"x":-1.5,"y":4.5,"a":-47},{"x":-1,"y":4.5,"a":-53},{"x":-0.5,"y":4.5,"a":-59},{"x":0,"y":4.5,"a":-67},{"x":0.5,"y":4.5,"a":-76},{"x":1,"y":4.5,"a":-85},{"x":1.5,"y":4.5,"a":-95},{"x":2,"y":4.5,"a":-104},{"x":2.5,"y":4.5,"a":-113},{"x":3,"y":4.5,"a":-120},{"x":3.5,"y":4.5,"a":-127},{"x":4,"y":4.5,"a":-133},{"x":4.5,"y":4.5,"a":-137},
{"x":-2.5,"y":4,"a":-33},{"x":-2,"y":4,"a":-37},{"x":-1.5,"y":4,"a":-41},{"x":-1,"y":4,"a":-48},{"x":-0.5,"y":4,"a":-55},{"x":0,"y":4,"a":-65},{"x":0.5,"y":4,"a":-76},{"x":1,"y":4,"a":-88},{"x":1.5,"y":4,"a":-100},{"x":2,"y":4,"a":-112},{"x":2.5,"y":4,"a":-122},{"x":3,"y":4,"a":-130},{"x":3.5,"y":4,"a":-137},{"x":4,"y":4,"a":-142},{"x":4.5,"y":4,"a":-146},
{"x":-2.5,"y":3.5,"a":-26},{"x":-2,"y":3.5,"a":-30},{"x":-1.5,"y":3.5,"a":-35},{"x":-1,"y":3.5,"a":-42},{"x":-0.5,"y":3.5,"a":-50},{"x":0,"y":3.5,"a":-62},{"x":0.5,"y":3.5,"a":-77},{"x":1,"y":3.5,"a":-93},{"x":1.5,"y":3.5,"a":-109},{"x":2,"y":3.5,"a":-123},{"x":2.5,"y":3.5,"a":-133},{"x":3,"y":3.5,"a":-141},{"x":3.5,"y":3.5,"a":-147},{"x":4,"y":3.5,"a":-151},{"x":4.5,"y":3.5,"a":-155},
{"x":-2.5,"y":3,"a":-20},{"x":-2,"y":3,"a":-23},{"x":-1.5,"y":3,"a":-28},{"x":-1,"y":3,"a":-34},{"x":-0.5,"y":3,"a":-44},{"x":0,"y":3,"a":-58},{"x":0.5,"y":3,"a":-79},{"x":1,"y":3,"a":-103},{"x":1.5,"y":3,"a":-123},{"x":2,"y":3,"a":-137},{"x":2.5,"y":3,"a":-146},{"x":3,"y":3,"a":-153},{"x":3.5,"y":3,"a":-157},{"x":4,"y":3,"a":-160},{"x":4.5,"y":3,"a":-163},
{"x":-2.5,"y":2.5,"a":-14},{"x":-2,"y":2.5,"a":-17},{"x":-1.5,"y":2.5,"a":-20},{"x":-1,"y":2.5,"a":-26},{"x":-0.5,"y":2.5,"a":-36},{"x":0,"y":2.5,"a":-55},{"x":0.5,"y":2.5,"a":-87},{"x":1,"y":2.5,"a":-121},{"x":1.5,"y":2.5,"a":-142},{"x":2,"y":2.5,"a":-152},{"x":2.5,"y":2.5,"a":-159},{"x":3,"y":2.5,"a":-163},{"x":3.5,"y":2.5,"a":-166},{"x":4,"y":2.5,"a":-168},{"x":4.5,"y":2.5,"a":-169},
{"x":-2.5,"y":2,"a":-9},{"x":-2,"y":2,"a":-10},{"x":-1.5,"y":2,"a":-13},{"x":-1,"y":2,"a":-18},{"x":-0.5,"y":2,"a":-27},{"x":0,"y":2,"a":-50},{"x":0.5,"y":2,"a":-108},{"x":1,"y":2,"a":-146},{"x":1.5,"y":2,"a":-159},{"x":2,"y":2,"a":-165},{"x":2.5,"y":2,"a":-169},{"x":3,"y":2,"a":-171},{"x":3.5,"y":2,"a":-172},{"x":4,"y":2,"a":-173},{"x":4.5,"y":2,"a":-174},
{"x":-2.5,"y":1.5,"a":-4},{"x":-2,"y":1.5,"a":-5},{"x":-1.5,"y":1.5,"a":-7},{"x":-1,"y":1.5,"a":-10},{"x":-0.5,"y":1.5,"a":-16},{"x":0,"y":1.5,"a":-48},{"x":0.5,"y":1.5,"a":-148},{"x":1,"y":1.5,"a":-166},{"x":1.5,"y":1.5,"a":-171},{"x":2,"y":1.5,"a":-174},{"x":2.5,"y":1.5,"a":-175},{"x":3,"y":1.5,"a":-176},{"x":3.5,"y":1.5,"a":-177},{"x":4,"y":1.5,"a":-177},{"x":4.5,"y":1.5,"a":-177},
{"x":-2.5,"y":1,"a":-1},{"x":-2,"y":1,"a":-2},{"x":-1.5,"y":1,"a":-2},{"x":-1,"y":1,"a":-3},{"x":-0.5,"y":1,"a":-6},{"x":0,"y":1,"a":-90},{"x":0.5,"y":1,"a":-174},{"x":1,"y":1,"a":-177},{"x":1.5,"y":1,"a":-178},{"x":2,"y":1,"a":-178},{"x":2.5,"y":1,"a":-179},{"x":3,"y":1,"a":-179},{"x":3.5,"y":1,"a":-179},{"x":4,"y":1,"a":-179},{"x":4.5,"y":1,"a":-179},
{"x":-2.5,"y":0.5,"a":0},{"x":-2,"y":0.5,"a":0},{"x":-1.5,"y":0.5,"a":0},{"x":-1,"y":0.5,"a":0},{"x":-0.5,"y":0.5,"a":-1},{"x":0,"y":0.5,"a":-179},{"x":0.5,"y":0.5,"a":180},{"x":1,"y":0.5,"a":180},{"x":1.5,"y":0.5,"a":180},{"x":2,"y":0.5,"a":180},{"x":2.5,"y":0.5,"a":180},{"x":3,"y":0.5,"a":180},{"x":3.5,"y":0.5,"a":180},{"x":4,"y":0.5,"a":180},{"x":4.5,"y":0.5,"a":180},
{"x":-2.5,"y":0,"a":-1},{"x":-2,"y":0,"a":-1},{"x":-1.5,"y":0,"a":-2},{"x":-1,"y":0,"a":-3},{"x":-0.5,"y":0,"a":-15},{"x":0,"y":0,"a":-174},{"x":0.5,"y":0,"a":-178},{"x":1,"y":0,"a":-179},{"x":1.5,"y":0,"a":-179},{"x":2,"y":0,"a":-179},{"x":2.5,"y":0,"a":-179},{"x":3,"y":0,"a":-179},{"x":3.5,"y":0,"a":-180},{"x":4,"y":0,"a":-180},{"x":4.5,"y":0,"a":-180},
{"x":-2.5,"y":-0.5,"a":-5},{"x":-2,"y":-0.5,"a":-6},{"x":-1.5,"y":-0.5,"a":-10},{"x":-1,"y":-0.5,"a":-20},{"x":-0.5,"y":-0.5,"a":-105},{"x":0,"y":-0.5,"a":-163},{"x":0.5,"y":-0.5,"a":-171},{"x":1,"y":-0.5,"a":-174},{"x":1.5,"y":-0.5,"a":-175},{"x":2,"y":-0.5,"a":-176},{"x":2.5,"y":-0.5,"a":-177},{"x":3,"y":-0.5,"a":-177},{"x":3.5,"y":-0.5,"a":-178},{"x":4,"y":-0.5,"a":-178},{"x":4.5,"y":-0.5,"a":-178},
{"x":-2.5,"y":-1,"a":-12},{"x":-2,"y":-1,"a":-17},{"x":-1.5,"y":-1,"a":-26},{"x":-1,"y":-1,"a":-54},{"x":-0.5,"y":-1,"a":-121},{"x":0,"y":-1,"a":-152},{"x":0.5,"y":-1,"a":-163},{"x":1,"y":-1,"a":-168},{"x":1.5,"y":-1,"a":-170},{"x":2,"y":-1,"a":-172},{"x":2.5,"y":-1,"a":-173},{"x":3,"y":-1,"a":-174},{"x":3.5,"y":-1,"a":-175},{"x":4,"y":-1,"a":-175},{"x":4.5,"y":-1,"a":-176},
{"x":-2.5,"y":-1.5,"a":-23},{"x":-2,"y":-1.5,"a":-32},{"x":-1.5,"y":-1.5,"a":-49},{"x":-1,"y":-1.5,"a":-82},{"x":-0.5,"y":-1.5,"a":-121},{"x":0,"y":-1.5,"a":-143},{"x":0.5,"y":-1.5,"a":-154},{"x":1,"y":-1.5,"a":-160},{"x":1.5,"y":-1.5,"a":-164},{"x":2,"y":-1.5,"a":-167},{"x":2.5,"y":-1.5,"a":-169},{"x":3,"y":-1.5,"a":-170},{"x":3.5,"y":-1.5,"a":-171},{"x":4,"y":-1.5,"a":-172},{"x":4.5,"y":-1.5,"a":-173},
{"x":-2.5,"y":-2,"a":-38},{"x":-2,"y":-2,"a":-50},{"x":-1.5,"y":-2,"a":-69},{"x":-1,"y":-2,"a":-95},{"x":-0.5,"y":-2,"a":-118},{"x":0,"y":-2,"a":-135},{"x":0.5,"y":-2,"a":-146},{"x":1,"y":-2,"a":-153},{"x":1.5,"y":-2,"a":-157},{"x":2,"y":-2,"a":-161},{"x":2.5,"y":-2,"a":-163},{"x":3,"y":-2,"a":-165},{"x":3.5,"y":-2,"a":-167},{"x":4,"y":-2,"a":-168},{"x":4.5,"y":-2,"a":-169},
{"x":-2.5,"y":-2.5,"a":-52},{"x":-2,"y":-2.5,"a":-65},{"x":-1.5,"y":-2.5,"a":-82},{"x":-1,"y":-2.5,"a":-100},{"x":-0.5,"y":-2.5,"a":-116},{"x":0,"y":-2.5,"a":-129},{"x":0.5,"y":-2.5,"a":-138},{"x":1,"y":-2.5,"a":-145},{"x":1.5,"y":-2.5,"a":-150},{"x":2,"y":-2.5,"a":-154},{"x":2.5,"y":-2.5,"a":-157},{"x":3,"y":-2.5,"a":-160},{"x":3.5,"y":-2.5,"a":-162},{"x":4,"y":-2.5,"a":-163},{"x":4.5,"y":-2.5,"a":-165}
]
},
"concat":[
{"width":273,"height":145,"layer":[
 {"data":{"name":"ae"},"transform":[{"filter":"datum.r==1"}],"mark":{"type":"line","strokeWidth":1.1},"encoding":{"x":{"field":"x","type":"quantitative","scale":{"domain":[0,27.3],"nice":false,"zero":false},"axis":null},"y":{"field":"y","type":"quantitative","scale":{"domain":[0,14.5],"nice":false,"zero":false},"axis":null},"detail":{"field":"e"},"color":{"field":"k","type":"nominal","scale":{"domain":["act","in"],"range":["#d08a8a","#404040"]},"legend":null}}},
 {"data":{"name":"an"},"transform":[{"filter":"datum.r==1"}],"mark":{"type":"point","shape":"circle","filled":true,"size":900,"strokeWidth":1.2,"opacity":1},"encoding":{"x":{"field":"x","type":"quantitative"},"y":{"field":"y","type":"quantitative"},"fill":{"field":"k","type":"nominal","scale":{"domain":["act","in"],"range":["#f6caca","#ffffff"]},"legend":null},"stroke":{"field":"k","type":"nominal","scale":{"domain":["act","in"],"range":["#d4a0a0","#222222"]},"legend":null}}},
 {"data":{"name":"an"},"transform":[{"filter":"datum.r==1 && datum.n=='x'"}],"mark":{"type":"text","font":"Liberation Serif","fontStyle":"italic","fontSize":23,"dx":-4,"dy":-1,"baseline":"middle"},"encoding":{"x":{"field":"x","type":"quantitative"},"y":{"field":"y","type":"quantitative"},"text":{"field":"n"}}},
 {"data":{"name":"an"},"transform":[{"filter":"datum.r==1 && datum.n=='x'"}],"mark":{"type":"text","font":"Liberation Serif","fontSize":15,"dx":7,"dy":5,"baseline":"middle"},"encoding":{"x":{"field":"x","type":"quantitative"},"y":{"field":"y","type":"quantitative"},"text":{"field":"i"}}},
 {"data":{"name":"an"},"transform":[{"filter":"datum.r==1 && datum.n=='y'"}],"mark":{"type":"text","font":"Liberation Serif","fontStyle":"italic","fontSize":24,"dy":-1,"baseline":"middle"},"encoding":{"x":{"field":"x","type":"quantitative"},"y":{"field":"y","type":"quantitative"},"text":{"field":"n"}}},
 {"data":{"name":"aw"},"transform":[{"filter":"datum.r==1"}],"mark":{"type":"text","font":"Liberation Serif","fontStyle":"italic","fontSize":23,"baseline":"middle"},"encoding":{"x":{"field":"x","type":"quantitative"},"y":{"field":"y","type":"quantitative"},"text":{"value":"ω"}}},
 {"data":{"name":"aw"},"transform":[{"filter":"datum.r==1"}],"mark":{"type":"text","font":"Liberation Serif","fontSize":15,"dx":11,"dy":5,"baseline":"middle"},"encoding":{"x":{"field":"x","type":"quantitative"},"y":{"field":"y","type":"quantitative"},"text":{"field":"i"}}},
 {"data":{"values":[{}]},"mark":{"type":"text","text":"+","fontSize":26,"fontWeight":"bold","baseline":"middle"},"encoding":{"x":{"datum":10.0},"y":{"datum":0.9}}},
 {"data":{"values":[{}]},"mark":{"type":"text","text":"Oja's rule","fontSize":18,"align":"left","baseline":"middle"},"encoding":{"x":{"datum":11.5},"y":{"datum":0.7}}},
 {"data":{"values":[{}]},"mark":{"type":"text","text":"Oja + Local\nMLP","lineBreak":"\n","lineHeight":22,"fontSize":22,"angle":270,"baseline":"middle"},"encoding":{"x":{"datum":2.2},"y":{"datum":6.9}}},
 {"data":{"values":[{}]},"mark":{"type":"text","text":"A","fontSize":20,"align":"left","baseline":"alphabetic"},"encoding":{"x":{"datum":1.2},"y":{"datum":15.9}}}
]},
{"width":147,"height":145,"layer":[
 {"data":{"name":"sc"},"transform":[{"filter":"datum.g=='1a'"}],"mark":{"type":"circle","size":85,"opacity":0.6,"color":"#9467bd"},"encoding":{"x":{"field":"x","type":"quantitative","scale":{"domain":[-3,3],"nice":false},"axis":{"values":[-2,0,2],"labelExpr":"(datum.value < 0 ? '-' : '') + format(abs(datum.value), '.1f')","title":null}},"y":{"field":"y","type":"quantitative","scale":{"domain":[-3,3],"nice":false},"axis":{"values":[-2,0,2],"labelExpr":"(datum.value < 0 ? '-' : '') + format(abs(datum.value), '.1f')","title":"Oja + Local MLP","titleX":-40,"titleY":72.5,"titleBaseline":"middle"}}}},
 {"data":{"name":"dl"},"transform":[{"filter":"datum.g=='1a'"}],"mark":{"type":"line","color":"#000","strokeWidth":1},"encoding":{"x":{"field":"x","type":"quantitative"},"y":{"field":"y","type":"quantitative"}}},
 {"data":{"values":[{}]},"mark":{"type":"text","text":"t = 10","fontSize":17},"encoding":{"x":{"datum":0},"y":{"datum":2.81}}},
 {"data":{"values":[{}]},"mark":{"type":"text","text":"B","fontSize":20,"align":"left","baseline":"alphabetic"},"encoding":{"x":{"datum":-4.47},"y":{"datum":3.58}}}
]},
{"width":146,"height":145,"layer":[
 {"data":{"name":"sc"},"transform":[{"filter":"datum.g=='1b'"}],"mark":{"type":"circle","size":85,"opacity":0.6,"color":"#9467bd"},"encoding":{"x":{"field":"x","type":"quantitative","scale":{"domain":[-3,3],"nice":false},"axis":{"values":[-2,0,2],"labelExpr":"(datum.value < 0 ? '-' : '') + format(abs(datum.value), '.1f')","title":null}},"y":{"field":"y","type":"quantitative","scale":{"domain":[-3,3],"nice":false},"axis":{"values":[-2,0,2],"labels":false,"ticks":false,"title":null}}}},
 {"data":{"name":"dl"},"transform":[{"filter":"datum.g=='1b'"}],"mark":{"type":"line","color":"#000","strokeWidth":1},"encoding":{"x":{"field":"x","type":"quantitative"},"y":{"field":"y","type":"quantitative"}}},
 {"data":{"values":[{}]},"mark":{"type":"text","text":"t = 50","fontSize":17},"encoding":{"x":{"datum":0},"y":{"datum":2.81}}}
]},
{"width":43,"height":145,"data":{"values":[{}]},"mark":{"type":"point","opacity":0}},
{"width":157,"height":145,"layer":[
 {"data":{"name":"cv"},"transform":[{"filter":"datum.s=='loc'"}],"mark":{"type":"line","strokeWidth":3,"color":"#9467bd"},"encoding":{"x":{"field":"t","type":"quantitative","scale":{"domain":[-10,210],"nice":false,"zero":false},"axis":{"values":[0,50,100,150,200],"title":null}},"y":{"field":"v","type":"quantitative","scale":{"domain":[-0.1,2],"nice":false,"zero":false},"axis":{"values":[0,1,2],"labelExpr":"datum.value == 0 ? '0' : format(datum.value, '.1f')","title":"||PC₁ − ω||","titleFont":"DejaVu Sans","titleFontStyle":"italic","titleFontSize":16,"titleX":-39,"titleY":72.5,"titleBaseline":"middle"}}}},
 {"data":{"name":"cv"},"transform":[{"filter":"datum.s=='oja'"}],"mark":{"type":"line","strokeWidth":3,"color":"#000"},"encoding":{"x":{"field":"t","type":"quantitative"},"y":{"field":"v","type":"quantitative"}}},
 {"data":{"values":[{}]},"mark":{"type":"rule","color":"#000","strokeWidth":3},"encoding":{"x":{"datum":14},"x2":{"datum":60},"y":{"datum":1.725}}},
 {"data":{"values":[{}]},"mark":{"type":"text","text":"Oja's Rule","fontSize":15.5,"align":"left","baseline":"middle"},"encoding":{"x":{"datum":77},"y":{"datum":1.725}}},
 {"data":{"values":[{}]},"mark":{"type":"rule","color":"#9467bd","strokeWidth":3},"encoding":{"x":{"datum":14},"x2":{"datum":60},"y":{"datum":1.28}}},
 {"data":{"values":[{}]},"mark":{"type":"text","text":"Oja + Local\n\u00a0MLP","lineBreak":"\n","lineHeight":17,"fontSize":15.5,"align":"left","baseline":"middle"},"encoding":{"x":{"datum":77},"y":{"datum":1.4}}},
 {"data":{"values":[{}]},"mark":{"type":"text","text":"C","fontSize":20,"align":"left","baseline":"alphabetic"},"encoding":{"x":{"datum":-80},"y":{"datum":2.2}}}
]},
{"width":43,"height":145,"data":{"values":[{}]},"mark":{"type":"point","opacity":0}},
{"width":147,"height":145,"layer":[
 {"data":{"name":"hm"},"transform":[{"filter":"datum.id=='1tl'"}],"mark":{"type":"rect","fill":{"gradient":"linear","x1":0,"y1":0,"x2":1,"y2":0.6,"stops":[{"offset":0,"color":"#7d0823"},{"offset":0.25,"color":"#c43c3e"},{"offset":0.5,"color":"#f09c7c"},{"offset":0.72,"color":"#fbdccc"},{"offset":0.9,"color":"#f8f0ec"},{"offset":1,"color":"#f7f7f7"}]}},"encoding":{"x":{"field":"x","type":"quantitative","scale":{"domain":[-2,2],"nice":false,"zero":false},"axis":{"values":[-2,2],"labelExpr":"(datum.value < 0 ? '-' : '') + abs(datum.value)","labelFlush":true,"offset":-72.5,"ticks":false,"labelPadding":1,"title":"x","titleFontStyle":"italic","titleFontSize":18,"titleX":73.5,"titleY":89.5,"titleBaseline":"middle","zindex":1}},"x2":{"field":"x2"},"y":{"field":"y","type":"quantitative","scale":{"domain":[-2,2],"nice":false,"zero":false},"axis":{"values":[-2,2],"labelExpr":"(datum.value < 0 ? '-' : '') + abs(datum.value)","offset":-73.5,"ticks":false,"labelPadding":2,"title":"y","titleFontStyle":"italic","titleFontSize":18,"titleX":-91,"titleY":72.5,"titleBaseline":"middle","zindex":1}},"y2":{"field":"y2"}}},
 {"data":{"name":"hm"},"transform":[{"filter":"datum.id=='1tr'"}],"mark":{"type":"rect","fill":{"gradient":"linear","x1":0,"y1":1,"x2":1,"y2":0,"stops":[{"offset":0,"color":"#f7f7f7"},{"offset":0.35,"color":"#eef3f6"},{"offset":0.55,"color":"#d1e5f0"},{"offset":0.75,"color":"#92c5de"},{"offset":0.9,"color":"#4a90c4"},{"offset":1,"color":"#2166ac"}]}},"encoding":{"x":{"field":"x","type":"quantitative"},"x2":{"field":"x2"},"y":{"field":"y","type":"quantitative"},"y2":{"field":"y2"}}},
 {"data":{"name":"hm"},"transform":[{"filter":"datum.id=='1bl'"}],"mark":{"type":"rect","fill":{"gradient":"linear","x1":1,"y1":0,"x2":0,"y2":1,"stops":[{"offset":0,"color":"#f7f7f7"},{"offset":0.35,"color":"#eef3f6"},{"offset":0.55,"color":"#d1e5f0"},{"offset":0.75,"color":"#92c5de"},{"offset":0.9,"color":"#4a90c4"},{"offset":1,"color":"#2166ac"}]}},"encoding":{"x":{"field":"x","type":"quantitative"},"x2":{"field":"x2"},"y":{"field":"y","type":"quantitative"},"y2":{"field":"y2"}}},
 {"data":{"name":"hm"},"transform":[{"filter":"datum.id=='1br'"}],"mark":{"type":"rect","fill":{"gradient":"linear","x1":0,"y1":0,"x2":1,"y2":1,"stops":[{"offset":0,"color":"#f7f7f7"},{"offset":0.35,"color":"#fbe5d8"},{"offset":0.55,"color":"#f7b799"},{"offset":0.75,"color":"#e07b62"},{"offset":0.9,"color":"#b8303a"},{"offset":1,"color":"#8a0b22"}]}},"encoding":{"x":{"field":"x","type":"quantitative"},"x2":{"field":"x2"},"y":{"field":"y","type":"quantitative"},"y2":{"field":"y2"}}},
 {"data":{"name":"hm"},"transform":[{"filter":"datum.id=='1s1'"}],"mark":{"type":"rect","fill":{"gradient":"linear","x1":0,"y1":0,"x2":1,"y2":0,"stops":[{"offset":0,"color":"#f4b9a1"},{"offset":0.45,"color":"#f9e0d4"},{"offset":0.55,"color":"#f5f1ef"},{"offset":1,"color":"#eef2f5"}]}},"encoding":{"x":{"field":"x","type":"quantitative"},"x2":{"field":"x2"},"y":{"field":"y","type":"quantitative"},"y2":{"field":"y2"}}},
 {"data":{"name":"hm"},"transform":[{"filter":"datum.id=='1s2'"}],"mark":{"type":"rect","fill":{"gradient":"linear","x1":0,"y1":0,"x2":1,"y2":0,"stops":[{"offset":0,"color":"#c6dcec"},{"offset":0.5,"color":"#eef2f5"},{"offset":1,"color":"#f8d2c2"}]}},"encoding":{"x":{"field":"x","type":"quantitative"},"x2":{"field":"x2"},"y":{"field":"y","type":"quantitative"},"y2":{"field":"y2"}}},
 {"data":{"values":[{}]},"mark":{"type":"text","text":"D","fontSize":20,"align":"left","baseline":"alphabetic"},"encoding":{"x":{"datum":-2.76},"y":{"datum":2.39}}}
]},
{"width":48,"height":145,"data":{"values":[{}]},"mark":{"type":"point","opacity":0}},
{"width":146,"height":145,"layer":[
 {"data":{"name":"q1"},"mark":{"type":"point","shape":"M-1,0L1,0M1,0L0.45,-0.35M1,0L0.45,0.35","size":42,"filled":false,"stroke":"#333","strokeWidth":0.8,"opacity":1},"encoding":{"x":{"field":"x","type":"quantitative","scale":{"domain":[-3,5],"nice":false,"zero":false},"axis":{"values":[-3,1,5],"labelExpr":"(datum.value < 0 ? '-' : '') + format(abs(datum.value), '.1f')","title":"y","titleFontStyle":"italic","titleFontSize":18,"titlePadding":0}},"y":{"field":"y","type":"quantitative","scale":{"domain":[-3,5],"nice":false,"zero":false},"axis":{"values":[-3,1,5],"labelExpr":"(datum.value < 0 ? '-' : '') + format(abs(datum.value), '.1f')","title":"ω","titleFontStyle":"italic","titleFontSize":19,"titleX":-41,"titleY":72.5,"titleBaseline":"middle"}},"angle":{"field":"a","type":"quantitative","scale":{"domain":[-180,180],"range":[180,-180]}}}},
 {"data":{"name":"nc"},"transform":[{"filter":"datum.p=='e1'"}],"mark":{"type":"line","color":"#7f7f7f","strokeWidth":3,"opacity":0.9,"clip":true},"encoding":{"x":{"field":"x","type":"quantitative"},"y":{"field":"y","type":"quantitative"},"detail":{"field":"s"},"order":{"field":"i","type":"quantitative"}}},
 {"data":{"name":"fp"},"transform":[{"filter":"datum.p=='e1'"}],"mark":{"type":"circle","size":130,"color":"#d42020","opacity":0.85},"encoding":{"x":{"field":"x","type":"quantitative"},"y":{"field":"y","type":"quantitative"}}},
 {"data":{"values":[{}]},"mark":{"type":"text","text":"E","fontSize":20,"align":"left","baseline":"alphabetic"},"encoding":{"x":{"datum":-5.52},"y":{"datum":5.77}}}
]},

{"width":273,"height":145,"layer":[
 {"data":{"name":"ae"},"transform":[{"filter":"datum.r==2"}],"mark":{"type":"line","strokeWidth":1.1},"encoding":{"x":{"field":"x","type":"quantitative","scale":{"domain":[0,27.3],"nice":false,"zero":false},"axis":null},"y":{"field":"y","type":"quantitative","scale":{"domain":[0,14.5],"nice":false,"zero":false},"axis":null},"detail":{"field":"e"},"color":{"field":"k","type":"nominal","scale":{"domain":["act","in"],"range":["#d08a8a","#404040"]},"legend":null}}},
 {"data":{"name":"an"},"transform":[{"filter":"datum.r==2"}],"mark":{"type":"point","shape":"circle","filled":true,"size":900,"strokeWidth":1.2,"opacity":1},"encoding":{"x":{"field":"x","type":"quantitative"},"y":{"field":"y","type":"quantitative"},"fill":{"field":"k","type":"nominal","scale":{"domain":["act","in"],"range":["#f6caca","#ffffff"]},"legend":null},"stroke":{"field":"k","type":"nominal","scale":{"domain":["act","in"],"range":["#d4a0a0","#222222"]},"legend":null}}},
 {"data":{"name":"an"},"transform":[{"filter":"datum.r==2 && datum.n=='x'"}],"mark":{"type":"text","font":"Liberation Serif","fontStyle":"italic","fontSize":23,"dx":-4,"dy":-1,"baseline":"middle"},"encoding":{"x":{"field":"x","type":"quantitative"},"y":{"field":"y","type":"quantitative"},"text":{"field":"n"}}},
 {"data":{"name":"an"},"transform":[{"filter":"datum.r==2 && datum.n=='x'"}],"mark":{"type":"text","font":"Liberation Serif","fontSize":15,"dx":7,"dy":5,"baseline":"middle"},"encoding":{"x":{"field":"x","type":"quantitative"},"y":{"field":"y","type":"quantitative"},"text":{"field":"i"}}},
 {"data":{"name":"an"},"transform":[{"filter":"datum.r==2 && datum.n=='y'"}],"mark":{"type":"text","font":"Liberation Serif","fontStyle":"italic","fontSize":24,"dy":-1,"baseline":"middle"},"encoding":{"x":{"field":"x","type":"quantitative"},"y":{"field":"y","type":"quantitative"},"text":{"field":"n"}}},
 {"data":{"name":"aw"},"transform":[{"filter":"datum.r==2"}],"mark":{"type":"text","font":"Liberation Serif","fontStyle":"italic","fontSize":23,"baseline":"middle"},"encoding":{"x":{"field":"x","type":"quantitative"},"y":{"field":"y","type":"quantitative"},"text":{"value":"ω"}}},
 {"data":{"name":"aw"},"transform":[{"filter":"datum.r==2"}],"mark":{"type":"text","font":"Liberation Serif","fontSize":15,"dx":11,"dy":5,"baseline":"middle"},"encoding":{"x":{"field":"x","type":"quantitative"},"y":{"field":"y","type":"quantitative"},"text":{"field":"i"}}},
 {"data":{"values":[{}]},"mark":{"type":"rect","fill":"#f6c8c8","stroke":"#e6a9a9","strokeWidth":1},"encoding":{"x":{"datum":6.7},"x2":{"datum":20.5},"y":{"datum":2.9},"y2":{"datum":0.4}}},
 {"data":{"values":[{}]},"mark":{"type":"text","text":"Σᵢωᵢ  Σᵢxᵢ","font":"Liberation Serif","fontStyle":"italic","fontSize":21,"baseline":"middle"},"encoding":{"x":{"datum":13.6},"y":{"datum":1.6}}},
 {"data":{"values":[{}]},"mark":{"type":"text","text":"Semi-global\nMLP","lineBreak":"\n","lineHeight":20,"fontSize":22,"angle":270,"baseline":"middle"},"encoding":{"x":{"datum":2.4},"y":{"datum":9.5}}}
]},
{"width":147,"height":145,"layer":[
 {"data":{"name":"sc"},"transform":[{"filter":"datum.g=='2a'"}],"mark":{"type":"circle","size":85,"opacity":0.6,"color":"#2ca02c"},"encoding":{"x":{"field":"x","type":"quantitative","scale":{"domain":[-3,3],"nice":false},"axis":{"values":[-2,0,2],"labelExpr":"(datum.value < 0 ? '-' : '') + format(abs(datum.value), '.1f')","title":null}},"y":{"field":"y","type":"quantitative","scale":{"domain":[-3,3],"nice":false},"axis":{"values":[-2,0,2],"labelExpr":"(datum.value < 0 ? '-' : '') + format(abs(datum.value), '.1f')","title":"Semi-global MLP","titleX":-40,"titleY":72.5,"titleBaseline":"middle"}}}},
 {"data":{"name":"dl"},"transform":[{"filter":"datum.g=='2a'"}],"mark":{"type":"line","color":"#000","strokeWidth":1},"encoding":{"x":{"field":"x","type":"quantitative"},"y":{"field":"y","type":"quantitative"}}}
]},
{"width":146,"height":145,"layer":[
 {"data":{"name":"sc"},"transform":[{"filter":"datum.g=='2b'"}],"mark":{"type":"circle","size":85,"opacity":0.6,"color":"#2ca02c"},"encoding":{"x":{"field":"x","type":"quantitative","scale":{"domain":[-3,3],"nice":false},"axis":{"values":[-2,0,2],"labelExpr":"(datum.value < 0 ? '-' : '') + format(abs(datum.value), '.1f')","title":null}},"y":{"field":"y","type":"quantitative","scale":{"domain":[-3,3],"nice":false},"axis":{"values":[-2,0,2],"labels":false,"ticks":false,"title":null}}}},
 {"data":{"name":"dl"},"transform":[{"filter":"datum.g=='2b'"}],"mark":{"type":"line","color":"#000","strokeWidth":1},"encoding":{"x":{"field":"x","type":"quantitative"},"y":{"field":"y","type":"quantitative"}}}
]},
{"width":43,"height":145,"data":{"values":[{}]},"mark":{"type":"point","opacity":0}},
{"width":157,"height":145,"layer":[
 {"data":{"name":"cv"},"transform":[{"filter":"datum.s=='semi'"}],"mark":{"type":"line","strokeWidth":3,"color":"#2ca02c"},"encoding":{"x":{"field":"t","type":"quantitative","scale":{"domain":[-10,210],"nice":false,"zero":false},"axis":{"values":[0,50,100,150,200],"title":null}},"y":{"field":"v","type":"quantitative","scale":{"domain":[-0.1,2],"nice":false,"zero":false},"axis":{"values":[0,1,2],"labelExpr":"datum.value == 0 ? '0' : format(datum.value, '.1f')","title":"||PC₁ − ω||","titleFont":"DejaVu Sans","titleFontStyle":"italic","titleFontSize":16,"titleX":-39,"titleY":72.5,"titleBaseline":"middle"}}}},
 {"data":{"name":"cv"},"transform":[{"filter":"datum.s=='oja'"}],"mark":{"type":"line","strokeWidth":3,"color":"#000"},"encoding":{"x":{"field":"t","type":"quantitative"},"y":{"field":"v","type":"quantitative"}}},
 {"data":{"values":[{}]},"mark":{"type":"rule","color":"#2ca02c","strokeWidth":3},"encoding":{"x":{"datum":10},"x2":{"datum":63},"y":{"datum":1.46}}},
 {"data":{"values":[{}]},"mark":{"type":"text","text":"Semi-global\n\u00a0MLP","lineBreak":"\n","lineHeight":17,"fontSize":15.5,"align":"left","baseline":"middle"},"encoding":{"x":{"datum":80},"y":{"datum":1.57}}}
]},
{"width":43,"height":145,"data":{"values":[{}]},"mark":{"type":"point","opacity":0}},
{"width":147,"height":145,"layer":[
 {"data":{"name":"hm"},"transform":[{"filter":"datum.id=='2'"}],"mark":{"type":"rect","fill":{"gradient":"linear","x1":0,"y1":0.1,"x2":1,"y2":0.7,"stops":[{"offset":0,"color":"#d6e6f0"},{"offset":0.45,"color":"#e6eef3"},{"offset":0.62,"color":"#f3f3f3"},{"offset":0.68,"color":"#fbdcca"},{"offset":0.76,"color":"#f2a181"},{"offset":0.85,"color":"#d0504a"},{"offset":0.93,"color":"#a8122a"},{"offset":1,"color":"#7f0a21"}]}},"encoding":{"x":{"field":"x","type":"quantitative","scale":{"domain":[-2,2],"nice":false,"zero":false},"axis":{"values":[-2,2],"labelExpr":"(datum.value < 0 ? '-' : '') + abs(datum.value)","labelFlush":true,"offset":-72.5,"ticks":false,"labelPadding":1,"title":"x","titleFontStyle":"italic","titleFontSize":18,"titleX":73.5,"titleY":89.5,"titleBaseline":"middle","zindex":1}},"x2":{"field":"x2"},"y":{"field":"y","type":"quantitative","scale":{"domain":[-2,2],"nice":false,"zero":false},"axis":{"values":[-2,2],"labelExpr":"(datum.value < 0 ? '-' : '') + abs(datum.value)","offset":-73.5,"ticks":false,"labelPadding":2,"title":"y","titleFontStyle":"italic","titleFontSize":18,"titleX":-91,"titleY":72.5,"titleBaseline":"middle","zindex":1}},"y2":{"field":"y2"}}}
]},
{"width":48,"height":145,"data":{"values":[{}]},"mark":{"type":"point","opacity":0}},
{"width":146,"height":145,"layer":[
 {"data":{"name":"q2"},"mark":{"type":"point","shape":"M-1,0L1,0M1,0L0.45,-0.35M1,0L0.45,0.35","size":42,"filled":false,"stroke":"#333","strokeWidth":0.8,"opacity":1},"encoding":{"x":{"field":"x","type":"quantitative","scale":{"domain":[-3,5],"nice":false,"zero":false},"axis":{"values":[-3,1,5],"labelExpr":"(datum.value < 0 ? '-' : '') + format(abs(datum.value), '.1f')","title":"y","titleFontStyle":"italic","titleFontSize":18,"titlePadding":0}},"y":{"field":"y","type":"quantitative","scale":{"domain":[-3,5],"nice":false,"zero":false},"axis":{"values":[-3,1,5],"labelExpr":"(datum.value < 0 ? '-' : '') + format(abs(datum.value), '.1f')","title":"ω","titleFontStyle":"italic","titleFontSize":19,"titleX":-41,"titleY":72.5,"titleBaseline":"middle"}},"angle":{"field":"a","type":"quantitative","scale":{"domain":[-180,180],"range":[180,-180]}}}},
 {"data":{"name":"nc"},"transform":[{"filter":"datum.p=='e2'"}],"mark":{"type":"line","color":"#7f7f7f","strokeWidth":3,"opacity":0.9,"clip":true},"encoding":{"x":{"field":"x","type":"quantitative"},"y":{"field":"y","type":"quantitative"},"detail":{"field":"s"},"order":{"field":"i","type":"quantitative"}}},
 {"data":{"name":"fp"},"transform":[{"filter":"datum.p=='e2'"}],"mark":{"type":"circle","size":130,"color":"#d42020","opacity":0.85},"encoding":{"x":{"field":"x","type":"quantitative"},"y":{"field":"y","type":"quantitative"}}}
]},

{"width":273,"height":145,"layer":[
 {"data":{"name":"ae"},"transform":[{"filter":"datum.r==3"}],"mark":{"type":"line","strokeWidth":1.8,"color":"#bd5b57"},"encoding":{"x":{"field":"x","type":"quantitative","scale":{"domain":[0,27.3],"nice":false,"zero":false},"axis":null},"y":{"field":"y","type":"quantitative","scale":{"domain":[0,14.5],"nice":false,"zero":false},"axis":null},"detail":{"field":"e"}}},
 {"data":{"name":"an"},"transform":[{"filter":"datum.r==3"}],"mark":{"type":"point","shape":"circle","filled":true,"size":1130,"strokeWidth":1.6,"opacity":1,"fill":"#f6caca","stroke":"#c0504d"},"encoding":{"x":{"field":"x","type":"quantitative"},"y":{"field":"y","type":"quantitative"}}},
 {"data":{"name":"an"},"transform":[{"filter":"datum.r==3 && datum.n=='x'"}],"mark":{"type":"text","font":"Liberation Serif","fontStyle":"italic","fontSize":24,"dx":-4,"dy":-1,"baseline":"middle"},"encoding":{"x":{"field":"x","type":"quantitative"},"y":{"field":"y","type":"quantitative"},"text":{"field":"n"}}},
 {"data":{"name":"an"},"transform":[{"filter":"datum.r==3 && datum.n=='x'"}],"mark":{"type":"text","font":"Liberation Serif","fontSize":16,"dx":8,"dy":5,"baseline":"middle"},"encoding":{"x":{"field":"x","type":"quantitative"},"y":{"field":"y","type":"quantitative"},"text":{"field":"i"}}},
 {"data":{"name":"an"},"transform":[{"filter":"datum.r==3 && datum.n=='y'"}],"mark":{"type":"text","font":"Liberation Serif","fontStyle":"italic","fontSize":25,"dy":-1,"baseline":"middle"},"encoding":{"x":{"field":"x","type":"quantitative"},"y":{"field":"y","type":"quantitative"},"text":{"field":"n"}}},
 {"data":{"name":"aw"},"transform":[{"filter":"datum.r==3"}],"mark":{"type":"text","font":"Liberation Serif","fontStyle":"italic","fontSize":23,"baseline":"middle"},"encoding":{"x":{"field":"x","type":"quantitative"},"y":{"field":"y","type":"quantitative"},"text":{"value":"ω"}}},
 {"data":{"name":"aw"},"transform":[{"filter":"datum.r==3"}],"mark":{"type":"text","font":"Liberation Serif","fontSize":15,"dx":11,"dy":5,"baseline":"middle"},"encoding":{"x":{"field":"x","type":"quantitative"},"y":{"field":"y","type":"quantitative"},"text":{"field":"i"}}},
 {"data":{"values":[{}]},"mark":{"type":"text","text":"Global MLP","fontSize":22,"angle":270,"baseline":"middle"},"encoding":{"x":{"datum":3.3},"y":{"datum":8.1}}}
]},
{"width":147,"height":145,"layer":[
 {"data":{"name":"sc"},"transform":[{"filter":"datum.g=='3a'"}],"mark":{"type":"circle","size":85,"opacity":0.75,"color":"#f5c000"},"encoding":{"x":{"field":"x","type":"quantitative","scale":{"domain":[-3,3],"nice":false},"axis":{"values":[-2,0,2],"labelExpr":"(datum.value < 0 ? '-' : '') + format(abs(datum.value), '.1f')","title":"Oja's Rule","titlePadding":2}},"y":{"field":"y","type":"quantitative","scale":{"domain":[-3,3],"nice":false},"axis":{"values":[-2,0,2],"labelExpr":"(datum.value < 0 ? '-' : '') + format(abs(datum.value), '.1f')","title":"Global MLP","titleX":-40,"titleY":72.5,"titleBaseline":"middle"}}}},
 {"data":{"name":"dl"},"transform":[{"filter":"datum.g=='3a'"}],"mark":{"type":"line","color":"#000","strokeWidth":1},"encoding":{"x":{"field":"x","type":"quantitative"},"y":{"field":"y","type":"quantitative"}}}
]},
{"width":146,"height":145,"layer":[
 {"data":{"name":"sc"},"transform":[{"filter":"datum.g=='3b'"}],"mark":{"type":"circle","size":85,"opacity":0.75,"color":"#f5c000"},"encoding":{"x":{"field":"x","type":"quantitative","scale":{"domain":[-3,3],"nice":false},"axis":{"values":[-2,0,2],"labelExpr":"(datum.value < 0 ? '-' : '') + format(abs(datum.value), '.1f')","title":"Oja's Rule","titlePadding":2}},"y":{"field":"y","type":"quantitative","scale":{"domain":[-3,3],"nice":false},"axis":{"values":[-2,0,2],"labels":false,"ticks":false,"title":null}}}},
 {"data":{"name":"dl"},"transform":[{"filter":"datum.g=='3b'"}],"mark":{"type":"line","color":"#000","strokeWidth":1},"encoding":{"x":{"field":"x","type":"quantitative"},"y":{"field":"y","type":"quantitative"}}}
]},
{"width":43,"height":145,"data":{"values":[{}]},"mark":{"type":"point","opacity":0}},
{"width":157,"height":145,"layer":[
 {"data":{"name":"cv"},"transform":[{"filter":"datum.s=='glob'"}],"mark":{"type":"line","strokeWidth":3,"color":"#f5c000"},"encoding":{"x":{"field":"t","type":"quantitative","scale":{"domain":[-10,210],"nice":false,"zero":false},"axis":{"values":[0,50,100,150,200],"title":"Time [a.u.]","titlePadding":2}},"y":{"field":"v","type":"quantitative","scale":{"domain":[-0.1,2],"nice":false,"zero":false},"axis":{"values":[0,1,2],"labelExpr":"datum.value == 0 ? '0' : format(datum.value, '.1f')","title":"||PC₁ − ω||","titleFont":"DejaVu Sans","titleFontStyle":"italic","titleFontSize":16,"titleX":-39,"titleY":72.5,"titleBaseline":"middle"}}}},
 {"data":{"name":"cv"},"transform":[{"filter":"datum.s=='oja'"}],"mark":{"type":"line","strokeWidth":3,"color":"#000"},"encoding":{"x":{"field":"t","type":"quantitative"},"y":{"field":"v","type":"quantitative"}}},
 {"data":{"values":[{}]},"mark":{"type":"rule","color":"#f5c000","strokeWidth":3},"encoding":{"x":{"datum":11},"x2":{"datum":58},"y":{"datum":1.73}}},
 {"data":{"values":[{}]},"mark":{"type":"text","text":"Global MLP","fontSize":15.5,"align":"left","baseline":"middle"},"encoding":{"x":{"datum":74},"y":{"datum":1.73}}}
]},
{"width":43,"height":145,"data":{"values":[{}]},"mark":{"type":"point","opacity":0}},
{"width":147,"height":145,"layer":[
 {"data":{"name":"hm"},"transform":[{"filter":"datum.id=='3'"}],"mark":{"type":"rect","fill":{"gradient":"linear","x1":0.45,"y1":0,"x2":0.57,"y2":1,"stops":[{"offset":0,"color":"#dce9f2"},{"offset":0.4,"color":"#e7eff4"},{"offset":0.62,"color":"#eef2f5"},{"offset":0.68,"color":"#d5e6f0"},{"offset":0.74,"color":"#a4cde3"},{"offset":0.8,"color":"#6aa8d2"},{"offset":0.9,"color":"#4b92c6"},{"offset":1,"color":"#3e86bf"}]}},"encoding":{"x":{"field":"x","type":"quantitative","scale":{"domain":[-2,2],"nice":false,"zero":false},"axis":{"values":[-2,2],"labelExpr":"(datum.value < 0 ? '-' : '') + abs(datum.value)","labelFlush":true,"offset":-72.5,"ticks":false,"labelPadding":1,"title":"x","titleFontStyle":"italic","titleFontSize":18,"titleX":73.5,"titleY":89.5,"titleBaseline":"middle","zindex":1}},"x2":{"field":"x2"},"y":{"field":"y","type":"quantitative","scale":{"domain":[-2,2],"nice":false,"zero":false},"axis":{"values":[-2,2],"labelExpr":"(datum.value < 0 ? '-' : '') + abs(datum.value)","offset":-73.5,"ticks":false,"labelPadding":2,"title":"y","titleFontStyle":"italic","titleFontSize":18,"titleX":-91,"titleY":72.5,"titleBaseline":"middle","zindex":1}},"y2":{"field":"y2"}}},
 {"data":{"values":[{"v":-4},{"v":4}]},"mark":{"type":"point","opacity":0},"encoding":{"color":{"field":"v","type":"quantitative","scale":{"scheme":"redblue","domain":[-4,4]},"legend":{"orient":"none","legendX":-4,"legendY":172,"direction":"horizontal","gradientLength":150,"gradientThickness":15,"values":[-4,4],"labelAlign":"center","title":"Δω,  ω = 0.01","titleOrient":"bottom","titleAnchor":"middle","titleFontSize":16,"titleFontWeight":"normal","titleFontStyle":"normal","titlePadding":-12,"labelFontSize":16,"gradientStrokeColor":"#000","gradientStrokeWidth":1.2}}}}
]},
{"width":48,"height":145,"data":{"values":[{}]},"mark":{"type":"point","opacity":0}},
{"width":146,"height":145,"layer":[
 {"data":{"name":"q3"},"mark":{"type":"point","shape":"M-1,0L1,0M1,0L0.45,-0.35M1,0L0.45,0.35","size":42,"filled":false,"stroke":"#333","strokeWidth":0.8,"opacity":1},"encoding":{"x":{"field":"x","type":"quantitative","scale":{"domain":[-3,5],"nice":false,"zero":false},"axis":{"values":[-3,1,5],"labelExpr":"(datum.value < 0 ? '-' : '') + format(abs(datum.value), '.1f')","title":"y","titleFontStyle":"italic","titleFontSize":18,"titlePadding":0}},"y":{"field":"y","type":"quantitative","scale":{"domain":[-3,5],"nice":false,"zero":false},"axis":{"values":[-3,1,5],"labelExpr":"(datum.value < 0 ? '-' : '') + format(abs(datum.value), '.1f')","title":"ω","titleFontStyle":"italic","titleFontSize":19,"titleX":-41,"titleY":72.5,"titleBaseline":"middle"}},"angle":{"field":"a","type":"quantitative","scale":{"domain":[-180,180],"range":[180,-180]}}}},
 {"data":{"name":"nc"},"transform":[{"filter":"datum.p=='e3'"}],"mark":{"type":"line","color":"#7f7f7f","strokeWidth":3,"opacity":0.9,"clip":true},"encoding":{"x":{"field":"x","type":"quantitative"},"y":{"field":"y","type":"quantitative"},"detail":{"field":"s"},"order":{"field":"i","type":"quantitative"}}}
]}
]
}
